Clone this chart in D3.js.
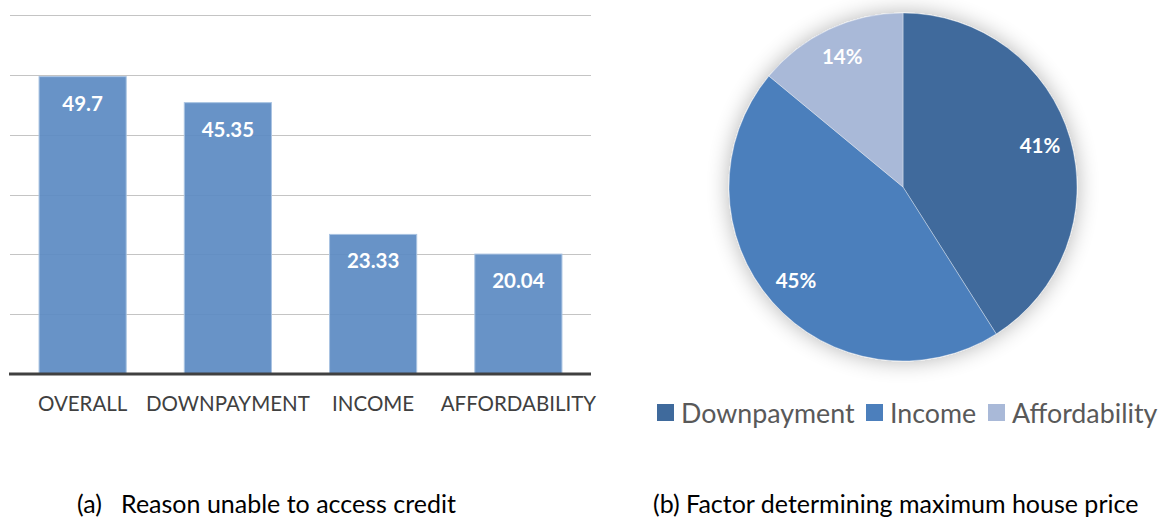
<!DOCTYPE html>
<html>
<head>
<meta charset="utf-8">
<script src="https://cdn.jsdelivr.net/npm/d3@7"></script>
<style>
  body { margin: 0; background: #fff; }
  svg { display: block; }
</style>
</head>
<body>
<div id="app"></div>
<script>
// bar chart data (a)
const barCategories = ["OVERALL", "DOWNPAYMENT", "INCOME", "AFFORDABILITY"];
const barValues = [49.7, 45.35, 23.33, 20.04];
const barLabels = ["49.7", "45.35", "23.33", "20.04"];
const yTicks = [0, 10, 20, 30, 40, 50, 60];

// pie chart data (b)
const pieCategories = ["Downpayment", "Income", "Affordability"];
const pieValues = [41, 45, 14];
const pieLabels = ["41%", "45%", "14%"];
const pieColors = ["#3f6a9c", "#4c7fbc", "#a9b9d8"];

const captions = ["(a)   Reason unable to access credit", "(b) Factor determining maximum house price"];

const font = "Lato, 'Open Sans', sans-serif";

//create SVG
const svg = d3.select("#app")
  .append("svg")
  .attr("width", 1163)
  .attr("height", 518);

// soft shadow for pie
const defs = svg.append("defs");
const f = defs.append("filter").attr("id", "glow")
  .attr("x", "-25%").attr("y", "-25%").attr("width", "150%").attr("height", "150%");
f.append("feGaussianBlur").attr("in", "SourceAlpha").attr("stdDeviation", 11).attr("result", "b");
f.append("feComponentTransfer").attr("in", "b").attr("result", "s")
  .append("feFuncA").attr("type", "linear").attr("slope", 0.3);
const fm = f.append("feMerge");
fm.append("feMergeNode").attr("in", "s");
fm.append("feMergeNode").attr("in", "SourceGraphic");

//bar chart
const x = d3.scaleBand()
  .domain(barCategories)
  .range([10, 591])
  .paddingInner(0.4)
  .paddingOuter(0.2);

const y = d3.scaleLinear()
  .domain([0, 60])
  .range([374, 15]);

const bars = svg.append("g").attr("id", "bars");

bars.selectAll(".grid")
  .data(yTicks.slice(1))
  .enter()
  .append("line")
  .attr("class", "grid")
  .attr("x1", 10)
  .attr("x2", 591)
  .attr("y1", (d) => Math.round(y(d)) + 0.5)
  .attr("y2", (d) => Math.round(y(d)) + 0.5)
  .style("stroke", "#c4c4c4")
  .style("stroke-width", 1);

bars.selectAll(".bar")
  .data(barValues)
  .enter()
  .append("rect")
  .attr("class", "bar")
  .attr("x", (d, i) => x(barCategories[i]))
  .attr("y", (d) => y(d))
  .attr("width", x.bandwidth())
  .attr("height", (d) => y(0) - y(d))
  .style("fill", "#5b8ac2")
  .style("fill-opacity", 0.92)
  .style("stroke", "#a9c3e2")
  .style("stroke-width", 1);

bars.selectAll(".val")
  .data(barValues)
  .enter()
  .append("text")
  .attr("class", "val")
  .attr("x", (d, i) => x(barCategories[i]) + x.bandwidth() / 2)
  .attr("y", (d) => y(d) + 34)
  .attr("text-anchor", "middle")
  .style("font-family", font)
  .style("font-weight", "bold")
  .style("font-size", "20.5px")
  .style("fill", "#fff")
  .text((d, i) => barLabels[i]);

// baseline axis
const xAxis = bars.append("g")
  .attr("transform", `translate(0, ${y(0)})`)
  .call(d3.axisBottom(x).tickSize(0).tickPadding(22).tickSizeOuter(0));
xAxis.select(".domain")
  .attr("d", "M9,0H591")
  .style("stroke", "#404040")
  .style("stroke-width", 3);
xAxis.selectAll("text")
  .style("font-family", font)
  .style("font-size", "20.5px")
  .style("fill", "#404040");

//pie chart
const cx = 903, cy = 187, r = 174;
const pie = d3.pie().sort(null).value((d) => d);
const arc = d3.arc().innerRadius(0).outerRadius(r);
const labelArc = d3.arc().innerRadius(r * 0.82).outerRadius(r * 0.82);

const pg = svg.append("g")
  .attr("transform", `translate(${cx}, ${cy})`);

const slices = pg.append("g").attr("filter", "url(#glow)");
slices.selectAll("path")
  .data(pie(pieValues))
  .enter()
  .append("path")
  .attr("d", arc)
  .style("fill", (d, i) => pieColors[i])
  .style("stroke", "#ffffff")
  .style("stroke-opacity", 0.35)
  .style("stroke-width", 1);

pg.selectAll(".pct")
  .data(pie(pieValues))
  .enter()
  .append("text")
  .attr("class", "pct")
  .attr("transform", (d) => `translate(${labelArc.centroid(d)})`)
  .attr("text-anchor", "middle")
  .attr("dy", "0.3em")
  .style("font-family", font)
  .style("font-weight", "bold")
  .style("font-size", "20.5px")
  .style("fill", "#fff")
  .text((d, i) => pieLabels[i]);

// legend
const legend = svg.append("g").attr("id", "legend");
const legendX = [657, 866, 988];
pieCategories.forEach((c, i) => {
  legend.append("rect")
    .attr("x", legendX[i])
    .attr("y", 404)
    .attr("width", 17)
    .attr("height", 17)
    .style("fill", pieColors[i]);
  legend.append("text")
    .attr("x", legendX[i] + 24)
    .attr("y", 423)
    .style("font-family", font)
    .style("font-size", "26.8px")
    .style("fill", "#595959")
    .text(c);
});

// captions
svg.append("text")
  .attr("x", 77)
  .attr("y", 513)
  .attr("xml:space", "preserve")
  .style("white-space", "pre")
  .style("font-family", font)
  .style("font-size", "25px")
  .style("fill", "#000")
  .text(captions[0]);
svg.append("text")
  .attr("x", 653)
  .attr("y", 513)
  .style("font-family", font)
  .style("font-size", "25px")
  .style("fill", "#000")
  .text(captions[1]);
</script>
</body>
</html>
